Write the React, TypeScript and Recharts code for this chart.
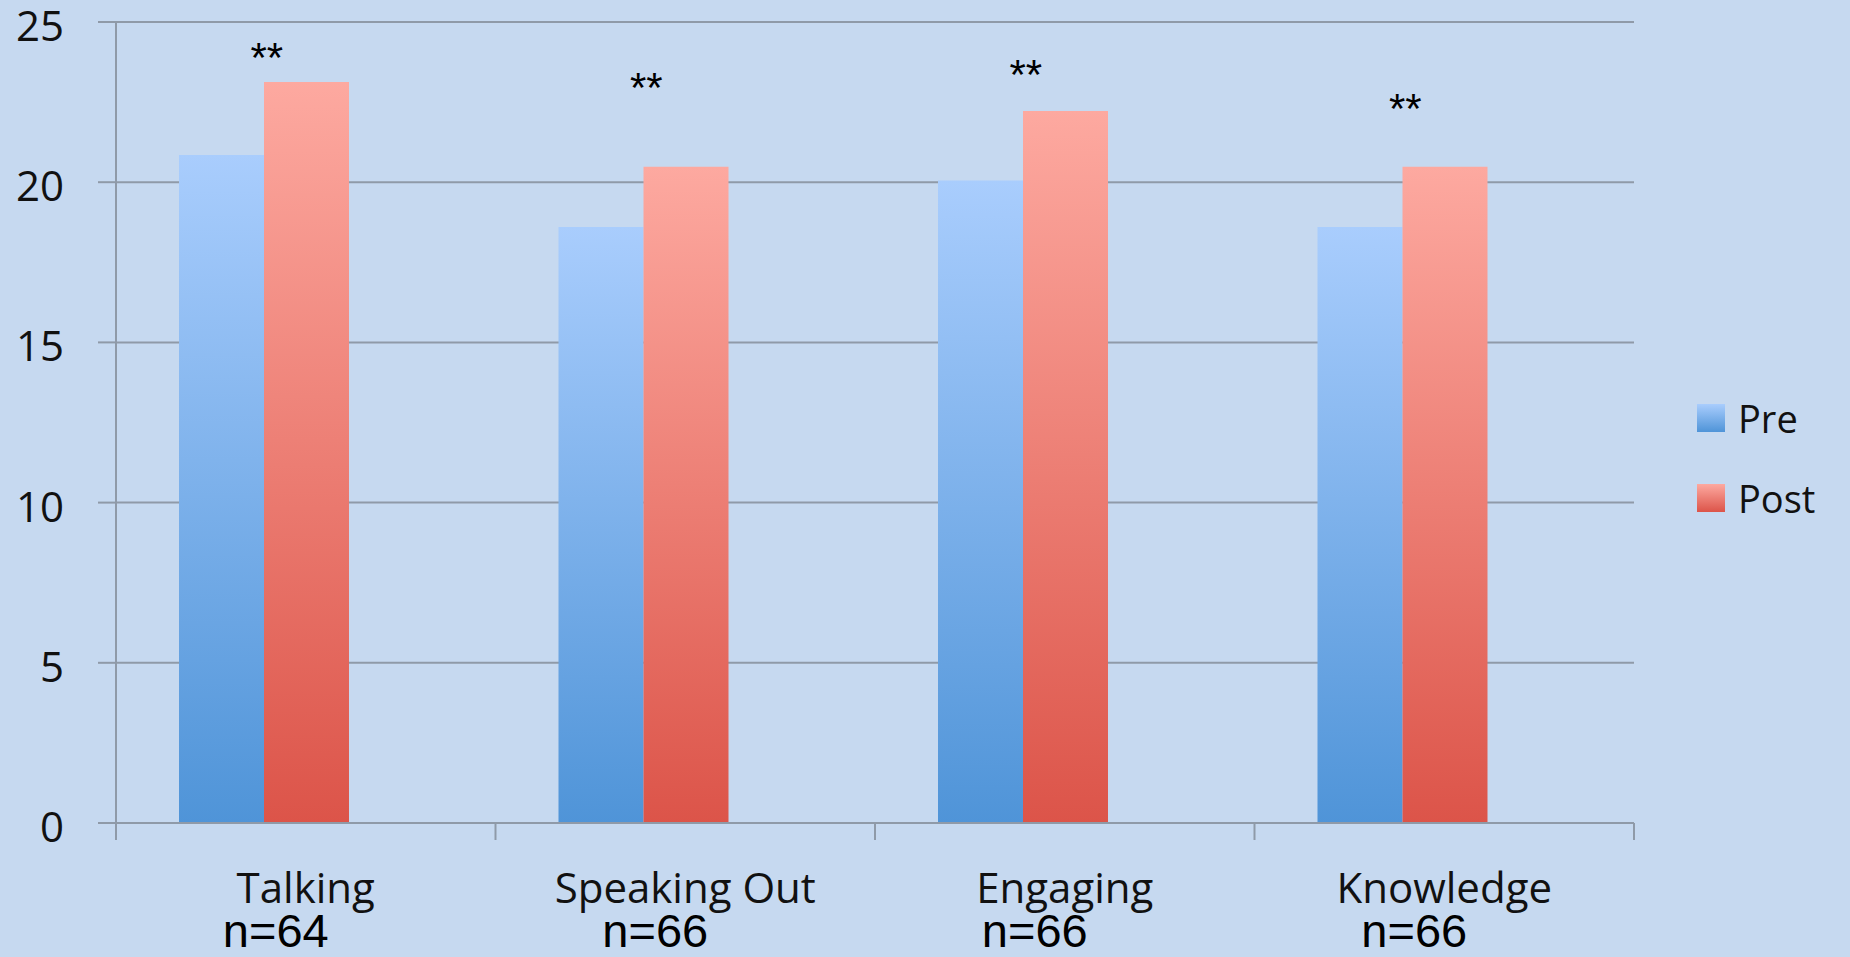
import React from 'react';
import { ComposedChart, Bar, Scatter, XAxis, YAxis, CartesianGrid, Legend } from 'recharts';

const categories = ['Talking', 'Speaking Out', 'Engaging', 'Knowledge'];
const sampleSizes = ['n=64', 'n=66', 'n=66', 'n=66'];
const preScores = [20.85, 18.6, 20.05, 18.6];
const postScores = [23.13, 20.48, 22.22, 20.48];
// vertical spot (in score units) of the "**" marks
const sigMarkY = [24.2, 23.25, 23.65, 22.6];
const sigMarks = ['**', '**', '**', '**'];
const yTicks = [0, 5, 10, 15, 20, 25];

const data = categories.map((name, i) => ({
  name,
  pre: preScores[i],
  post: postScores[i],
  blank: null, // empty third series, keeps the pair left of center like the original
  sig: sigMarkY[i],
  mark: sigMarks[i],
}));

const bg = '#c6d9f0';
const lineGray = '#8f9aa8';

const CategoryTick = (props: any) => {
  const { x, y, payload, index, width, visibleTicksCount } = props;
  const band = width / visibleTicksCount;
  return (
    <g>
      <line x1={x - band / 2} y1={y} x2={x - band / 2} y2={y + 17} stroke={lineGray} strokeWidth={2} />
      {index === visibleTicksCount - 1 && (
        <line x1={x + band / 2} y1={y} x2={x + band / 2} y2={y + 17} stroke={lineGray} strokeWidth={2} />
      )}
      <text x={x} y={y + 80} textAnchor="middle" fontFamily="Open Sans" fontSize={42} fill="#111">
        {payload.value}
      </text>
      <text x={x - 30} y={y + 124} textAnchor="middle" fontFamily="Liberation Sans" fontSize={47} fill="#000">
        {sampleSizes[index]}
      </text>
    </g>
  );
};

const ValueTick = (props: any) => {
  const { x, y, payload } = props;
  return (
    <text x={x} y={y + 19} textAnchor="end" fontFamily="Open Sans" fontSize={42} fill="#111">
      {payload.value}
    </text>
  );
};

const StarMark = (props: any) => {
  const { cx, cy, payload } = props;
  return (
    <text x={cx - 39} y={cy + 24} textAnchor="middle" fontFamily="Liberation Sans" fontSize={42} fill="#000">
      {payload.mark}
    </text>
  );
};

const legendItems = [
  { label: 'Pre', fill: 'linear-gradient(#a9cdfd, #4f94d8)' },
  { label: 'Post', fill: 'linear-gradient(#fda9a0, #dc5449)' },
];

const LegendBox = () => (
  <div style={{ fontFamily: 'Open Sans', fontSize: 38, color: '#111' }}>
    {legendItems.map((it) => (
      <div key={it.label} style={{ display: 'flex', alignItems: 'center', height: 52, lineHeight: '52px', marginBottom: 28 }}>
        <span style={{ width: 28, height: 28, background: it.fill, marginRight: 13, display: 'inline-block' }} />
        <span>{it.label}</span>
      </div>
    ))}
  </div>
);

export default function App() {
  return (
    <div style={{ position: 'absolute', top: 0, left: 0, width: 1850, height: 957, background: bg }}>
      <ComposedChart
        width={1850}
        height={957}
        data={data}
        margin={{ top: 22, right: 216, bottom: 0, left: 0 }}
        barCategoryGap="16.6%"
        barGap={0}
      >
        <defs>
          <linearGradient id="preGrad" x1="0" y1="0" x2="0" y2="1">
            <stop offset="0%" stopColor="#a9cdfd" />
            <stop offset="100%" stopColor="#4f94d8" />
          </linearGradient>
          <linearGradient id="postGrad" x1="0" y1="0" x2="0" y2="1">
            <stop offset="0%" stopColor="#fda9a0" />
            <stop offset="100%" stopColor="#dc5449" />
          </linearGradient>
        </defs>
        <CartesianGrid vertical={false} stroke={lineGray} strokeWidth={2} />
        <XAxis
          dataKey="name"
          height={134}
          axisLine={{ stroke: lineGray, strokeWidth: 2 }}
          tickLine={false}
          tickSize={0}
          tickMargin={0}
          interval={0}
          tick={<CategoryTick />}
        />
        <YAxis
          width={116}
          domain={[0, 25]}
          ticks={yTicks}
          tickSize={18}
          tickMargin={34}
          axisLine={{ stroke: lineGray, strokeWidth: 2 }}
          tickLine={{ stroke: lineGray, strokeWidth: 2 }}
          tick={<ValueTick />}
        />
        <Legend
          layout="horizontal"
          verticalAlign="middle"
          align="center"
          content={<LegendBox />}
          wrapperStyle={{ position: 'absolute', left: 1697, top: 392, width: 150 }}
        />
        <Bar dataKey="pre" name="Pre" fill="url(#preGrad)" isAnimationActive={false} />
        <Bar dataKey="post" name="Post" fill="url(#postGrad)" isAnimationActive={false} />
        <Bar dataKey="blank" legendType="none" fill="none" isAnimationActive={false} />
        <Scatter dataKey="sig" legendType="none" shape={<StarMark />} isAnimationActive={false} />
      </ComposedChart>
    </div>
  );
}
